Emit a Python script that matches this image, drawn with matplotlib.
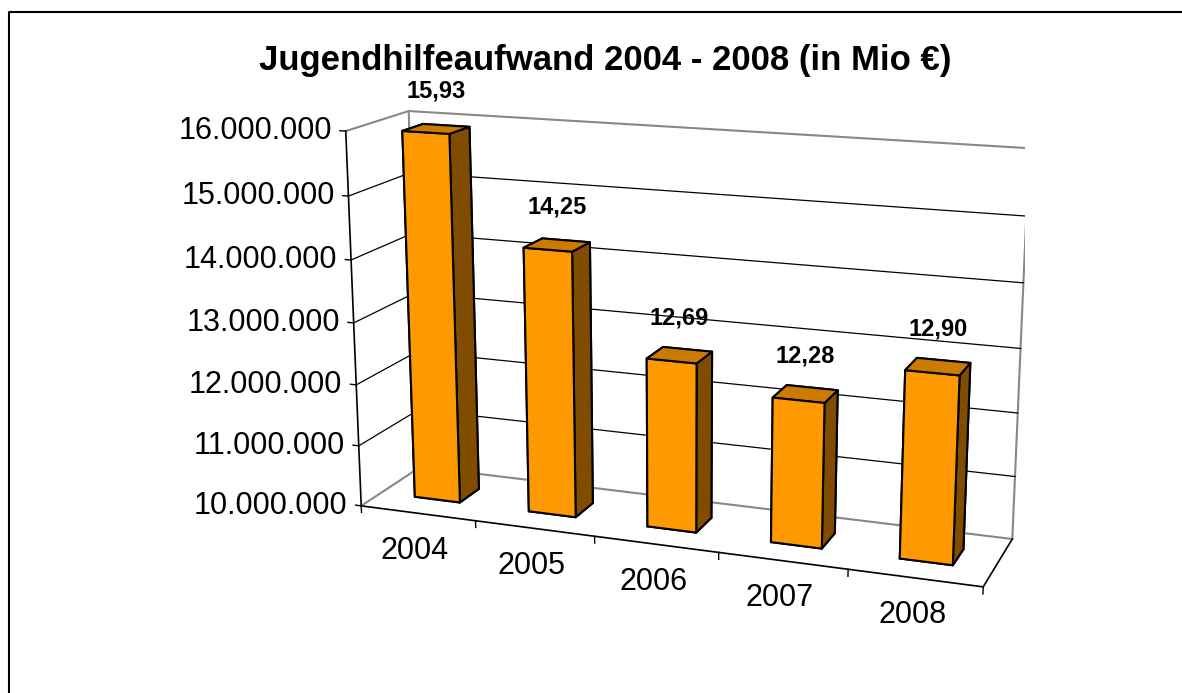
import matplotlib
matplotlib.use("Agg")
import matplotlib.pyplot as plt
from matplotlib.lines import Line2D
from mpl_toolkits.mplot3d import proj3d
import numpy as np

years = ["2004", "2005", "2006", "2007", "2008"]
spending = [15930000, 14250000, 12690000, 12280000, 12900000]
spending_labels = ["15,93", "14,25", "12,69", "12,28", "12,90"]
value_ticks = [10000000, 11000000, 12000000, 13000000, 14000000, 15000000, 16000000]
value_tick_labels = ["10.000.000", "11.000.000", "12.000.000", "13.000.000",
                     "14.000.000", "15.000.000", "16.000.000"]
title = "Jugendhilfeaufwand 2004 - 2008 (in Mio €)"

plt.rcParams['font.family'] = ['Liberation Sans', 'DejaVu Sans']

W, H = 1182, 693
fig = plt.figure(figsize=(W / 100, H / 100), dpi=100)

# 3d axes, square in pixels so matplotlib does not reshape it
side = 710
ax = fig.add_axes([315 / W, -7 / H, side / W, side / H], projection='3d',
                  proj_type='persp', focal_length=0.55, computed_zorder=False)
ax.view_init(elev=15, azim=-69.9)
ax.set_box_aspect((7.2, 1.49, 4.32), zoom=1.0685)
n = len(years)
z0, z1 = value_ticks[0], value_ticks[-1]
ax.set_xlim(0, n)
ax.set_ylim(0, 1)
ax.set_zlim(z0, z1)
ax.set_axis_off()

M = ax.get_proj()


def to2d(x, y, z):
    px, py, _ = proj3d.proj_transform(x, y, z, M)
    return float(px), float(py)


wall = '#888888'
# left wall + back wall outline
ax.plot([0, 0], [0, 1], [z1, z1], color=wall, lw=1.5, zorder=1)
ax.plot([0, 0], [1, 1], [z0, z1], color=wall, lw=1.5, zorder=1)
ax.plot([0, 0], [0, 1], [z0, z0], color=wall, lw=1.5, zorder=1)
ax.plot([0, n], [1, 1], [z1, z1], color=wall, lw=1.5, zorder=1)
ax.plot([n, n], [1, 1], [z0, z1], color=wall, lw=1.5, zorder=1)
ax.plot([0, n], [1, 1], [z0, z0], color=wall, lw=1.5, zorder=1)

# gridlines on both walls
for z in value_ticks[1:-1]:
    ax.plot([0, 0, n], [0, 1, 1], [z, z, z], color='black', lw=0.9, zorder=1)

# value axis, category axis, floor edge
ax.plot([0, 0], [0, 0], [z0, z1], color='black', lw=1.2, zorder=3)
ax.plot([0, n], [0, 0], [z0, z0], color='black', lw=1.2, zorder=3)
ax.plot([n, n], [0, 1], [z0, z0], color='black', lw=1.2, zorder=3)
for z in value_ticks:
    ax.plot([-0.05, 0], [0, 0], [z, z], color='black', lw=1, zorder=3)
for i in range(n + 1):
    ax.plot([i, i], [0, 0], [z0 - 110000, z0], color='black', lw=1, zorder=3)

# bars
bar_w = 0.4
depth0, depth = 0.33, 0.34
front, top, right = '#FF9900', '#CC7A00', '#7F4C00'
xs = np.arange(n) + 0.5 - bar_w / 2
face_colors = [front, top, front, front, right, right] * n   # -z,+z,-y,+y,-x,+x
ax.bar3d(xs, np.full(n, depth0), np.full(n, z0), bar_w, depth,
         np.array(spending) - z0, color=face_colors, edgecolor='black',
         linewidth=1.5, shade=False, zorder=2)

# labels as 2d annotations anchored at projected 3d points
for i, (v, lab) in enumerate(zip(spending, spending_labels)):
    ax.annotate(lab, xy=to2d(i + 0.5, 0.5, v), xytext=(0, 27),
                textcoords='offset points', ha='center', va='center',
                fontsize=17, fontweight='bold', zorder=4)

for i, yr in enumerate(years):
    ax.annotate(yr, xy=to2d(i + 0.5, 0, z0), xytext=(-2, -27),
                textcoords='offset points', ha='center', va='center',
                fontsize=22, zorder=4)

for z, lab in zip(value_ticks, value_tick_labels):
    ax.annotate(lab, xy=to2d(0, 0, z), xytext=(-10, 0),
                textcoords='offset points', ha='right', va='center',
                fontsize=22, zorder=4)

fig.text(0.512, 0.913, title, ha='center', va='center', fontsize=25,
         fontweight='bold')

# chart frame (only top and left edges fall inside the picture)
fig.add_artist(Line2D([9 / W, 9 / W, 1], [0, 1 - 12 / H, 1 - 12 / H],
                      color='black', lw=1.5, transform=fig.transFigure))

fig.savefig('out.png', dpi=100)
